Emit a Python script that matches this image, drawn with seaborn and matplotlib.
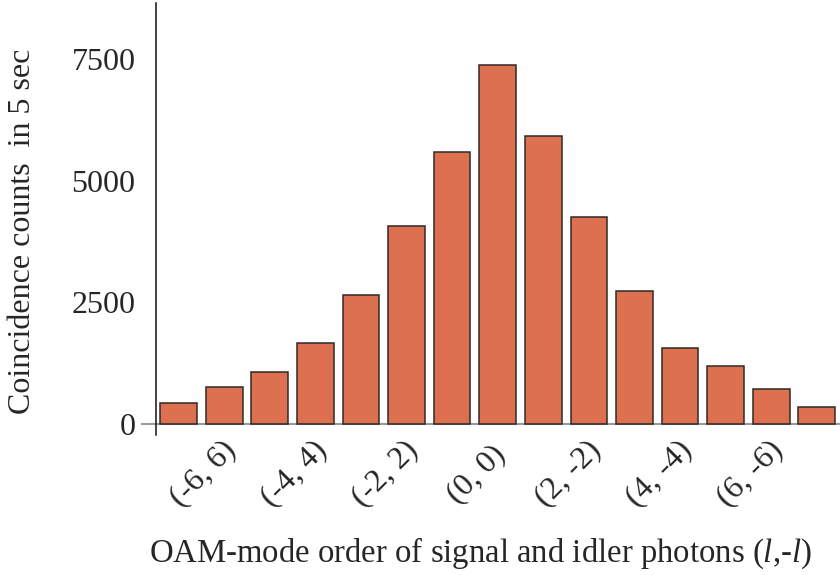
import matplotlib
matplotlib.use("Agg")
import matplotlib.pyplot as plt
from matplotlib.transforms import ScaledTranslation
import seaborn as sns
import pandas as pd

# ---- data ----
modes = ["(-7, 7)", "(-6, 6)", "(-5, 5)", "(-4, 4)", "(-3, 3)", "(-2, 2)", "(-1, 1)",
         "(0, 0)", "(1, -1)", "(2, -2)", "(3, -3)", "(4, -4)", "(5, -5)", "(6, -6)", "(7, -7)"]
counts = [425, 760, 1068, 1658, 2644, 4074, 5594, 7375, 5922, 4252, 2726, 1568, 1198, 713, 349]
shown_labels = ["(-6, 6)", "(-4, 4)", "(-2, 2)", "(0, 0)", "(2, -2)", "(4, -4)", "(6, -6)"]
yticks = [0, 2500, 5000, 7500]

sns.set_style("white")
plt.rcParams["font.family"] = ["Liberation Serif", "DejaVu Serif"]
plt.rcParams["mathtext.fontset"] = "custom"
plt.rcParams["mathtext.rm"] = "Liberation Serif"
plt.rcParams["mathtext.it"] = "Liberation Serif:italic"

df = pd.DataFrame({"mode": modes, "count": counts})

W, H = 840, 575
fig = plt.figure(figsize=(W / 100, H / 100), dpi=100)
ax = fig.add_axes([142 / W, (H - 435) / H, (840 - 142) / W, (435 - 3) / H])

sns.barplot(data=df, x="mode", y="count", order=modes, color="#dd714f",
            saturation=1, edgecolor="#2e2a28", linewidth=1.1, width=0.805, ax=ax)

ax.set_xlim(-0.805, 14.51)
ax.set_ylim(-226, 8648)

# spines
for s in ["top", "right"]:
    ax.spines[s].set_visible(False)
ax.spines["left"].set_position(("data", -0.492))
ax.spines["left"].set_color("#111111")
ax.spines["left"].set_linewidth(1.1)
ax.spines["bottom"].set_position(("data", 0))
ax.spines["bottom"].set_color("#9a9a9a")
ax.spines["bottom"].set_linewidth(1.5)
ax.spines["bottom"].set_zorder(0.5)

# ticks
pos = [modes.index(l) for l in shown_labels]
ax.set_xticks(pos, shown_labels, rotation=45, ha="center", va="center",
              rotation_mode="anchor", fontsize=23)
ax.set_yticks(yticks, [str(v) for v in yticks], fontsize=23)
ax.tick_params(axis="x", direction="in", length=5, width=1, color="#222222", pad=0)
ax.tick_params(axis="y", direction="in", length=6, width=1, color="#222222", pad=15)
shift = ScaledTranslation(-21 / 100, -50 / 100, fig.dpi_scale_trans)
for lab in ax.get_xticklabels():
    lab.set_transform(lab.get_transform() + shift)

ax.set_xlabel(r"OAM-mode order of signal and idler photons ($\mathit{l}$,-$\mathit{l}$)", fontsize=23.6)
ax.xaxis.set_label_coords(480 / W, 1 - 553 / H, transform=fig.transFigure)
ax.xaxis.label.set_va("center")
ax.set_ylabel("Coincidence counts  in 5 sec", fontsize=23)
ax.yaxis.set_label_coords(23 / W, 1 - 231 / H, transform=fig.transFigure)
ax.yaxis.label.set_va("center")

fig.savefig("out.png", dpi=100)
